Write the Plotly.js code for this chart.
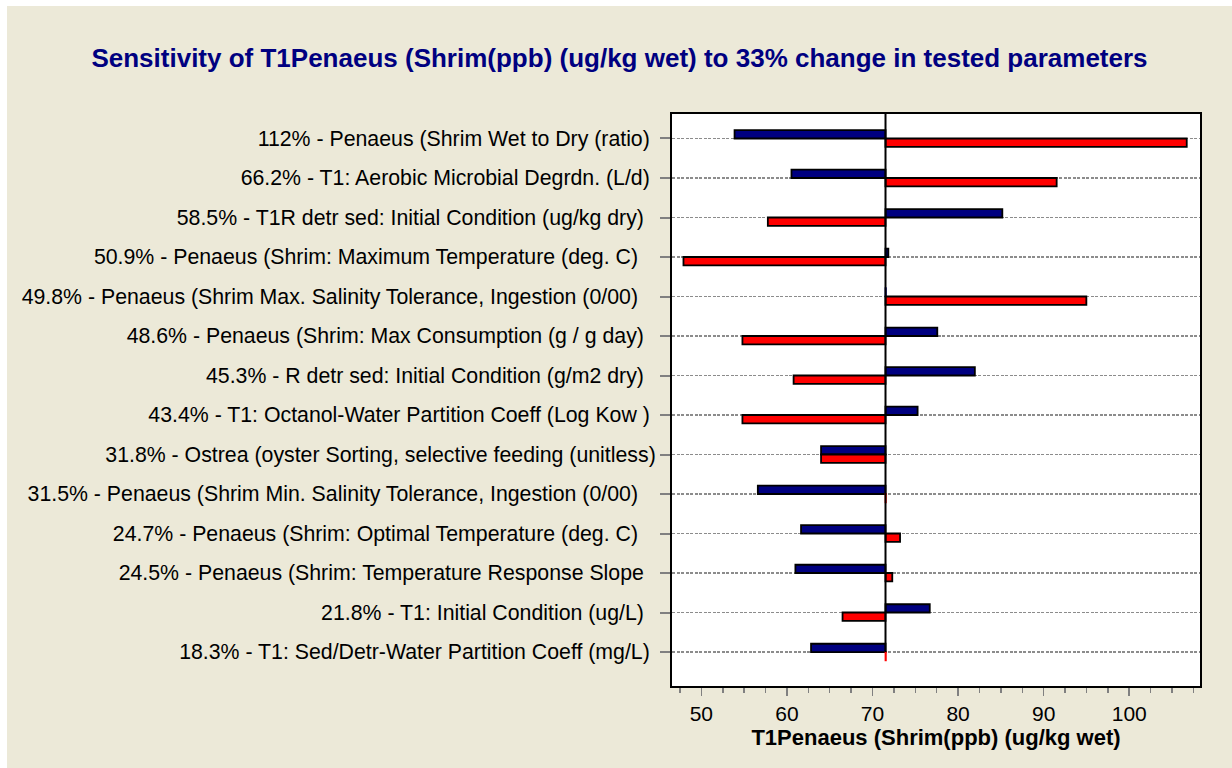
<!DOCTYPE html>
<html>
<head>
<meta charset="utf-8">
<script src="https://cdn.plot.ly/plotly-3.0.1.min.js"></script>
<style>
  html, body { margin: 0; padding: 0; background: #ffffff; width: 1232px; height: 768px; overflow: hidden; }
  #chart { position: absolute; left: 7px; top: 6px; width: 1225px; height: 762px; }
</style>
</head>
<body>
<div id="chart"></div>
<script>
// ---- Data ----
const categories = [
  "112% - Penaeus (Shrim Wet to Dry (ratio) ",
  "66.2% - T1: Aerobic Microbial Degrdn. (L/d) ",
  "58.5% - T1R detr sed: Initial Condition (ug/kg dry)  ",
  "50.9% - Penaeus (Shrim: Maximum Temperature (deg. C)   ",
  "49.8% - Penaeus (Shrim Max. Salinity Tolerance, Ingestion (0/00)   ",
  "48.6% - Penaeus (Shrim: Max Consumption (g / g day)  ",
  "45.3% - R detr sed: Initial Condition (g/m2 dry)  ",
  "43.4% - T1: Octanol-Water Partition Coeff (Log Kow ) ",
  "31.8% - Ostrea (oyster Sorting, selective feeding (unitless)",
  "31.5% - Penaeus (Shrim Min. Salinity Tolerance, Ingestion (0/00)   ",
  "24.7% - Penaeus (Shrim: Optimal Temperature (deg. C)   ",
  "24.5% - Penaeus (Shrim: Temperature Response Slope  ",
  "21.8% - T1: Initial Condition (ug/L)  ",
  "18.3% - T1: Sed/Detr-Water Partition Coeff (mg/L) "
];
// result when parameter decreased (blue) and increased (red)
const lowValues  = [53.88, 60.53, 85.17, 71.85, 71.56, 77.57, 81.96, 75.27, 63.99, 56.60, 61.65, 60.99, 76.69, 62.82];
const highValues = [106.72, 91.52, 57.77, 47.91, 94.99, 54.80, 60.78, 54.80, 63.99, 71.56, 73.22, 72.31, 66.50, 71.56];
const baseline = 71.52;
const xTickVals = [50, 60, 70, 80, 90, 100];
const titleText = "Sensitivity of T1Penaeus (Shrim(ppb) (ug/kg wet) to 33% change in tested parameters";
const xTitleText = "T1Penaeus (Shrim(ppb) (ug/kg wet)";

// ---- Build ----
const labels = categories.map(s => s.replace(/ +$/, m => "\u00A0".repeat(m.length)));
const idx = categories.map((_, i) => i);
const BLUE = "#000080", RED = "#ff0000";

function lineColors(vals, fill) {
  return vals.map(v => Math.abs(v - baseline) < 0.2 ? fill : "#000000");
}

const traceLow = {
  type: "bar", orientation: "h",
  y: idx, x: lowValues.map(v => v - baseline), base: baseline,
  width: 0.21, offset: -0.21,
  marker: { color: BLUE, line: { color: lineColors(lowValues, BLUE), width: 1.8 } },
  hoverinfo: "skip", showlegend: false, name: "-33%"
};
const traceHigh = {
  type: "bar", orientation: "h",
  y: idx, x: highValues.map(v => v - baseline), base: baseline,
  width: 0.21, offset: 0,
  marker: { color: RED, line: { color: lineColors(highValues, RED), width: 1.8 } },
  hoverinfo: "skip", showlegend: false, name: "+33%"
};

const layout = {
  width: 1225, height: 762,
  paper_bgcolor: "#ece9d8", plot_bgcolor: "#ffffff",
  margin: { l: 665, r: 32, t: 108, b: 82, pad: 0 },
  barmode: "overlay",
  font: { family: "Liberation Sans, Arial, sans-serif", size: 21, color: "#000000" },
  title: {
    text: titleText,
    font: { family: "Liberation Sans, Arial, sans-serif", size: 26, color: "#000080", weight: "bold" },
    x: 0.5, xref: "container", xanchor: "center",
    y: 1 - 52 / 762, yref: "container", yanchor: "middle"
  },
  xaxis: {
    range: [46.57, 108.27], tickvals: xTickVals, ticktext: xTickVals.map(String),
    ticks: "outside", ticklen: 8, tickwidth: 1.5, tickcolor: "#808080",
    minor: { dtick: 2.5, tick0: 50, ticks: "outside", ticklen: 5, tickwidth: 1.5, tickcolor: "#808080", showgrid: false },
    showgrid: false, zeroline: false,
    showline: true, mirror: true, linecolor: "#000000", linewidth: 2,
    tickfont: { size: 21, color: "#000000" },
    title: { text: xTitleText, standoff: 0, font: { size: 22, weight: "bold", color: "#000000" } },
    fixedrange: true
  },
  yaxis: {
    type: "linear",
    range: [13.86, -0.62],
    tickvals: idx, ticktext: labels,
    ticks: "outside", ticklen: 10, tickwidth: 2, tickcolor: "#808080",
    showgrid: true, gridcolor: "#8c8c8c", gridwidth: 1.2, griddash: "3px,1.5px",
    zeroline: false,
    showline: true, mirror: true, linecolor: "#000000", linewidth: 2,
    tickfont: { size: 21.3, color: "#000000" },
    fixedrange: true
  },
  shapes: [{
    type: "line", xref: "x", yref: "y",
    x0: baseline, x1: baseline, y0: -0.62, y1: 13,
    line: { color: "#000000", width: 2 }, layer: "above"
  }]
};

Plotly.newPlot("chart", [traceLow, traceHigh], layout, { displayModeBar: false, staticPlot: true });
</script>
</body>
</html>
